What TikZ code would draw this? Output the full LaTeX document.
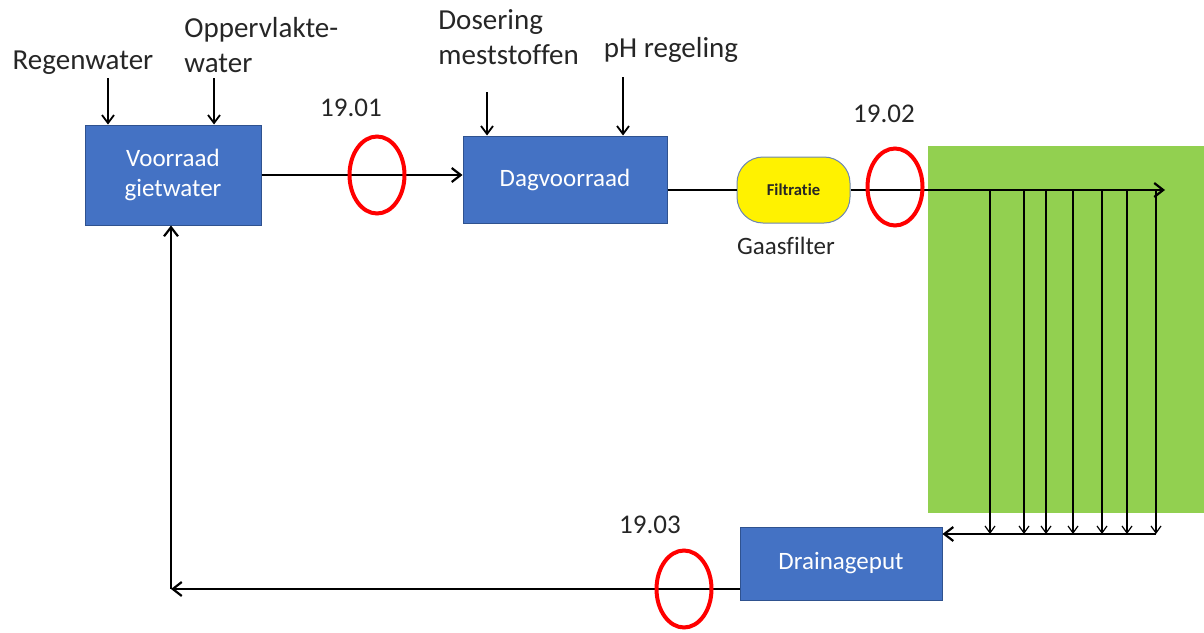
\documentclass[tikz,border=0pt]{standalone}
\usepackage{fontspec}
\setmainfont{Carlito}[Ligatures=NoCommon]
\usetikzlibrary{arrows.meta,shapes.geometric}

\definecolor{tankblauw}{HTML}{4472C4}
\definecolor{randblauw}{HTML}{2F528F}
\definecolor{kasgroen}{HTML}{92D050}
\definecolor{tekstgrijs}{HTML}{262626}

\tikzset{
  tank/.style={draw=randblauw,line width=0.5pt,fill=tankblauw,text=white,
    font=\fontsize{12.5}{15}\selectfont,align=center,inner sep=0pt},
  tekst/.style={text=tekstgrijs,font=\fontsize{14.5}{17.5}\selectfont,align=left,inner sep=0pt},
  nummer/.style={text=tekstgrijs,font=\fontsize{13.5}{16}\selectfont,inner sep=0pt},
  meetpunt/.style={ellipse,draw=red,line width=2pt,minimum width=27.5pt,minimum height=38.5pt,inner sep=0pt},
  leiding/.style={line width=1.1pt,-{Straight Barb[length=4.5pt,width=7pt]}},
  toevoer/.style={line width=0.9pt,-{Straight Barb[length=4pt,width=6pt]}},
  tak/.style={line width=0.6pt,-{Straight Barb[length=3.5pt,width=5pt]}}
}

\begin{document}
\begin{tikzpicture}[x=0.5pt,y=-0.5pt]
\useasboundingbox (0,0) rectangle (1204,632);

% kas
\node[fill=kasgroen,minimum width=138pt,minimum height=183.5pt,inner sep=0pt,anchor=north west] (kas) at (928,146) {};

% tanks
\node[tank,minimum width=88pt,minimum height=50pt] (voorraad) at (173,175) {Voorraad\\gietwater};
\node[tank,minimum width=102pt,minimum height=43.5pt] (dag) at (565,179.5) {Dagvoorraad};
\node[tank,minimum width=101pt,minimum height=36.5pt] (drain) at (841,563.5) {Drainageput};
\node[draw=randblauw!70,line width=0.5pt,fill=yellow,rounded corners=13pt,minimum width=56.5pt,minimum height=33pt,
  inner sep=0pt,text=tekstgrijs,font=\fontsize{8.3}{10}\selectfont\bfseries] (filter) at (793.5,190) {Filtratie};
\node[nummer,font=\fontsize{12.5}{15}\selectfont] (gaas) at (786,246) {Gaasfilter};

% toevoer
\node[tekst] (regen) at (83,63) {Regenwater};
\node[tekst,anchor=west] (opp) at (184,45) {Oppervlakte-\\water};
\node[tekst,anchor=west] (dos) at (438,37) {Dosering\\meststoffen};
\node[tekst] (ph) at (671,50) {pH regeling};
\coordinate (inRegen) at (108,78);
\coordinate (inOpp) at (214,78);
\coordinate (inDos) at (487,92);
\coordinate (inPH) at (623,77);
\draw[toevoer] (inRegen) -- (inRegen |- voorraad.north);
\draw[toevoer] (inOpp) -- (inOpp |- voorraad.north);
\draw[toevoer] (inDos) -- (inDos |- dag.north);
\draw[toevoer] (inPH) -- (inPH |- dag.north);

% leidingen
\draw[leiding] (voorraad.east) -- (voorraad.east -| dag.west);
\draw[line width=1.1pt] (filter.west -| dag.east) -- (filter.west);
\coordinate (einde) at (1165,190);
\draw[leiding] (filter.east) -- (einde);
\coordinate (verzamel) at (1156,534);
\foreach \x [count=\i] in {990,1024,1046,1073,1102,1127,1156}{
  \coordinate (tak\i) at (\x,190);
  \draw[tak] (tak\i) -- (tak\i |- verzamel);
}
\draw[line width=1.1pt] (tak1 |- verzamel) -- (verzamel);
\draw[leiding] (tak1 |- verzamel) -- (verzamel -| drain.east);
\coordinate (hoek) at (171,589);
\draw[leiding] (hoek -| drain.west) -- (hoek);
\draw[leiding] (hoek) -- (hoek |- voorraad.south);

% meetpunten
\node[meetpunt] (m1) at (377,175) {};
\node[meetpunt] (m2) at (895,187) {};
\node[meetpunt] (m3) at (684,589) {};
\node[nummer] (n1) at (351,108) {19.01};
\node[nummer] (n2) at (884,114) {19.02};
\node[nummer] (n3) at (650,525) {19.03};
\end{tikzpicture}
\end{document}
